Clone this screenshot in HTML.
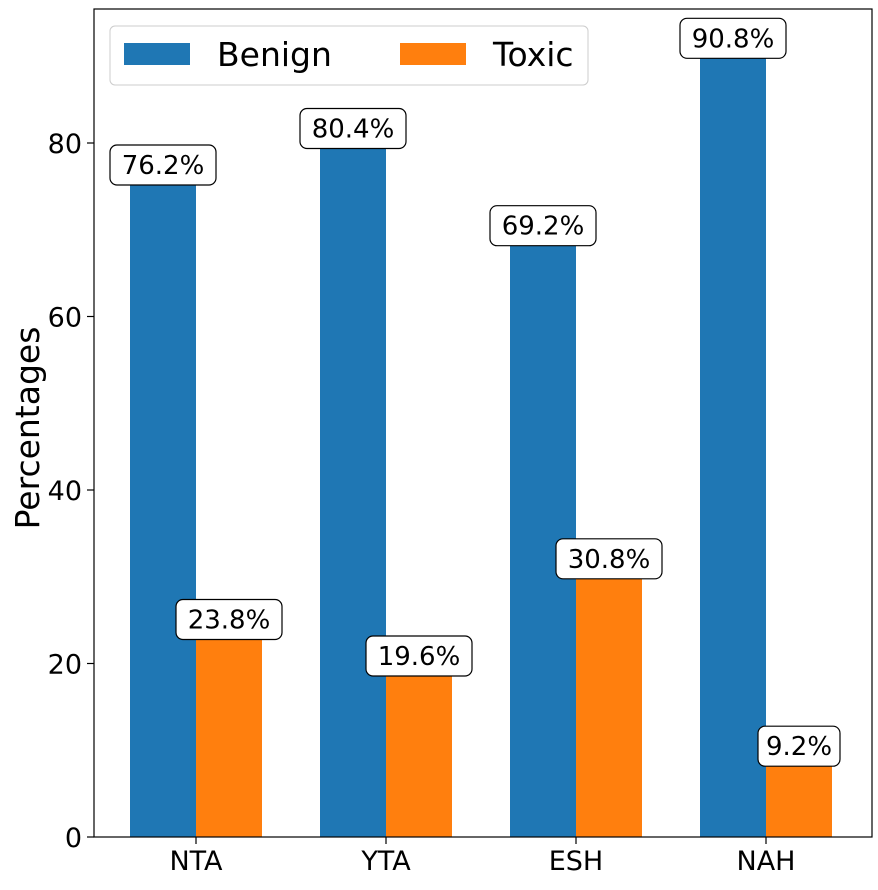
<!DOCTYPE html>
<html><head><meta charset="utf-8"><style>
body{margin:0;background:#fff;}
svg text{font-family:"DejaVu Sans","Liberation Sans",sans-serif;fill:#000;}
</style></head><body>
<svg id="chart" width="878" height="885" xmlns="http://www.w3.org/2000/svg">
<g id="grid"></g>
<g id="bars"></g>
<g id="labels"></g>
<rect x="94" y="9" width="778" height="828" fill="none" stroke="#000" stroke-width="1.2"/>
<g id="axes"></g>
<text transform="translate(39,428) rotate(-90)" text-anchor="middle" font-size="33">Percentages</text>
<g>
<rect x="110" y="26" width="478" height="59" rx="5" fill="#fff" stroke="#ccc"/>
<rect x="124" y="43" width="66" height="22" fill="#1f77b4"/>
<text x="217" y="66" font-size="33">Benign</text>
<rect x="400" y="43" width="66" height="22" fill="#ff7f0e"/>
<text x="493" y="66" font-size="33">Toxic</text>
</g>
</svg>
<script>
const categories=["NTA","YTA","ESH","NAH"];
const benign=[76.2,80.4,69.2,90.8];
const toxic=[23.8,19.6,30.8,9.2];
const yTicks=[0,20,40,60,80];
const NS="http://www.w3.org/2000/svg";
const x=i=>196+i*190;
const y=v=>837-v*8.675;
const bw=66;
function mk(tag,attrs,parent,txt){const e=document.createElementNS(NS,tag);for(const k in attrs)e.setAttribute(k,attrs[k]);if(txt!==undefined)e.textContent=txt;document.getElementById(parent).appendChild(e);return e;}
yTicks.forEach(t=>{
 const l=mk('line',{x1:87,x2:94,y1:y(t),y2:y(t),stroke:'#000','stroke-width':1.2},'axes');
 
 
 const tx=mk('text',{x:82,y:y(t)+10,'text-anchor':'end','font-size':27},'axes',t);
 
 
});
function label(cx,v){
 const top=y(v);const cy=top-11;const w=v>=10?106:82;
 const r=mk('rect',{x:cx-w/2,y:cy-20,width:w,height:40,rx:7,fill:'#fff',stroke:'#000','stroke-width':1.2},'labels');
 
 
 const t=mk('text',{x:cx,y:cy+9,'text-anchor':'middle','font-size':26},'labels',v.toFixed(1)+'%');
 
 
}
categories.forEach((c,i)=>{
 const b=mk('rect',{x:x(i)-bw,y:y(benign[i]),width:bw,height:y(0)-y(benign[i]),fill:'#1f77b4'},'bars');
 
 
 const o=mk('rect',{x:x(i),y:y(toxic[i]),width:bw,height:y(0)-y(toxic[i]),fill:'#ff7f0e'},'bars');
 
 
 label(x(i)-bw/2,benign[i]);
 label(x(i)+bw/2,toxic[i]);
 const tk=mk('line',{x1:x(i),x2:x(i),y1:837,y2:844,stroke:'#000','stroke-width':1.2},'axes');
 
 
 const tl=mk('text',{x:x(i),y:870,'text-anchor':'middle','font-size':27},'axes',c);
 
 
});
</script>
</body></html>
